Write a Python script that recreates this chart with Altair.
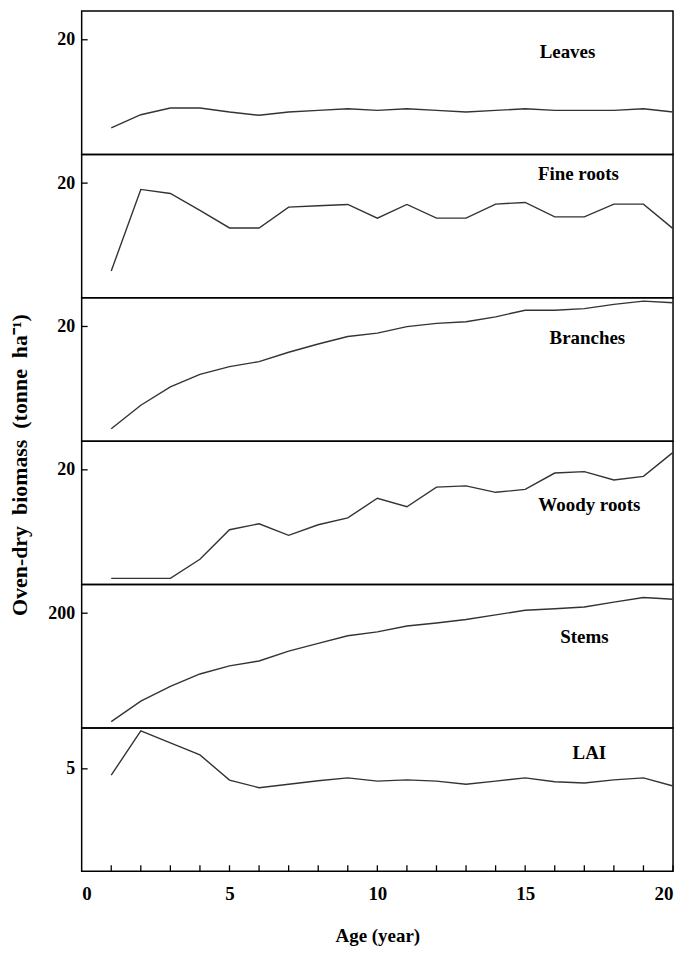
import altair as alt
import pandas as pd

ages = list(range(1, 21))

leaves = [4.65, 6.93, 8.09, 8.09, 7.40, 6.83, 7.40, 7.69, 7.97, 7.69,
          7.97, 7.69, 7.40, 7.69, 7.97, 7.69, 7.69, 7.69, 7.97, 7.40]
fine_roots = [4.67, 18.9, 18.2, 15.26, 12.18, 12.18, 15.82, 16.06, 16.28, 13.89,
              16.28, 13.89, 13.89, 16.34, 16.63, 14.11, 14.11, 16.34, 16.34, 12.06]
branches = [2.16, 6.27, 9.47, 11.64, 13.01, 13.87, 15.51, 16.95, 18.25, 18.84,
            19.97, 20.55, 20.82, 21.68, 22.83, 22.83, 23.12, 23.85, 24.42, 24.14]
woody_roots = [1.08, 1.08, 1.08, 4.41, 9.56, 10.59, 8.58, 10.42, 11.62, 15.05,
               13.56, 16.99, 17.21, 16.08, 16.59, 19.44, 19.68, 18.24, 18.87, 23.04]
stems = [10.8, 46.6, 72.3, 94.0, 108.2, 116.7, 133.8, 147.5, 160.6, 167.5,
         177.7, 182.8, 189.0, 197.0, 205.1, 207.8, 210.7, 219.2, 227.3, 224.4]
lai = [4.69, 6.86, 6.27, 5.68, 4.45, 4.08, 4.25, 4.42, 4.56, 4.40,
       4.46, 4.40, 4.25, 4.40, 4.56, 4.37, 4.31, 4.46, 4.56, 4.16]

names = ["Leaves", "Fine roots", "Branches", "Woody roots", "Stems", "LAI"]
series = [leaves, fine_roots, branches, woody_roots, stems, lai]
y_max = [25, 25, 25, 25, 250, 7]
y_tick = [20, 20, 20, 20, 200, 5]
x_labels = [0, 5, 10, 15, 20]
x_minor = list(range(1, 21))
GAP = "\u00a0 "
y_title = "Oven-dry" + GAP + "biomass" + GAP + "(tonne" + GAP + "ha\u207b\u00b9)"

# layout (pixels inside each panel)
W, H = 594, 144
label_pos = [(488, 41), (499, 20), (508, 40), (510, 64), (505, 53), (510, 25)]

FONT = "Liberation Serif"
LINE = "#333333"

panels = []
for i, (name, vals) in enumerate(zip(names, series)):
    df = pd.DataFrame({"age": ages, "value": vals})
    bottom = i == len(names) - 1
    yscale = alt.Scale(domain=[0, y_max[i]], nice=False, zero=True)
    xscale = alt.Scale(domain=[0, 20], nice=False)
    yaxis = alt.Axis(values=[y_tick[i]], ticks=False, domain=False, grid=False,
                     labelFont=FONT, labelFontWeight="bold", labelFontSize=18,
                     labelColor="black", labelPadding=7, title=None)
    if bottom:
        xaxis = alt.Axis(values=x_labels, ticks=False, domain=False, grid=False,
                         labelFont=FONT, labelFontWeight="bold", labelFontSize=19,
                         labelColor="black", labelPadding=13,
                         title="Age (year)", titleFont=FONT, titleFontWeight="bold",
                         titleFontSize=19, titleColor="black", titlePadding=24)
    else:
        xaxis = None

    line = alt.Chart(df).mark_line(color=LINE, strokeWidth=1.4).encode(
        x=alt.X("age:Q", scale=xscale, axis=xaxis),
        y=alt.Y("value:Q", scale=yscale, axis=yaxis),
    )
    ytick = alt.Chart(pd.DataFrame({"value": [y_tick[i]]})).mark_rule(
        color="black", strokeWidth=1.3
    ).encode(
        y=alt.Y("value:Q", scale=yscale, axis=yaxis),
        x=alt.value(0), x2=alt.value(6),
    )
    lx, ly = label_pos[i]
    label = alt.Chart(pd.DataFrame({"name": [name]})).mark_text(
        font=FONT, fontWeight="bold", fontSize=19, color="black",
        align="center", baseline="middle"
    ).encode(x=alt.value(lx), y=alt.value(ly), text="name:N")

    layers = [line, ytick, label]
    if bottom:
        xt = alt.Chart(pd.DataFrame({"age": x_minor})).mark_rule(
            color="black", strokeWidth=1.3
        ).encode(
            x=alt.X("age:Q", scale=xscale, axis=xaxis),
            y=alt.value(H - 6), y2=alt.value(H),
        )
        layers.append(xt)

    panels.append(alt.layer(*layers).properties(
        width=W, height=H,
        view=alt.ViewBackground(stroke="black", strokeWidth=1.5)))

title_chart = alt.Chart(pd.DataFrame({"t": [y_title]})).mark_text(
    font=FONT, fontWeight="bold", fontSize=22, color="black",
    angle=270, align="center", baseline="middle"
).encode(x=alt.value(11), y=alt.value(456), text="t:N").properties(
    width=22, height=6 * H,
    view=alt.ViewBackground(stroke="transparent", strokeWidth=0))

stack = alt.vconcat(*panels, spacing=0, bounds="flush")

chart = alt.hconcat(title_chart, stack, spacing=16).properties(
    padding={"left": 0, "top": 0, "right": 0, "bottom": 0},
    background="white"
)

chart.save("out.html", embed_options={"renderer": "svg", "actions": False})
